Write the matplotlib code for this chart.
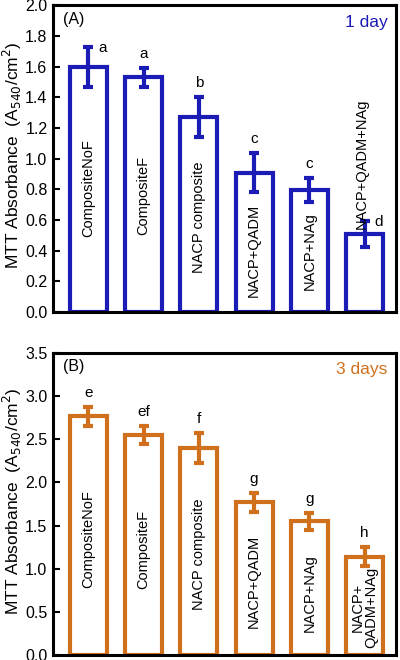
import numpy as np
import matplotlib
matplotlib.use('Agg')
import matplotlib.pyplot as plt

plt.rcParams['font.family'] = ['Liberation Sans', 'DejaVu Sans']

# Datos
grupos = ['CompositeNoF', 'CompositeF', 'NACP composite', 'NACP+QADM', 'NACP+NAg', 'NACP+QADM+NAg']
grupos_b = ['CompositeNoF', 'CompositeF', 'NACP composite', 'NACP+QADM', 'NACP+NAg', 'NACP+\nQADM+NAg']

dia1 = [1.60, 1.53, 1.27, 0.91, 0.795, 0.51]
err1 = [0.13, 0.06, 0.13, 0.13, 0.08, 0.085]
letras1 = ['a', 'a', 'b', 'c', 'c', 'd']

dia3 = [2.77, 2.55, 2.40, 1.77, 1.55, 1.14]
err3 = [0.11, 0.10, 0.17, 0.11, 0.10, 0.11]
letras3 = ['e', 'ef', 'f', 'g', 'g', 'h']

AZUL = '#1b1bb5'
NARANJA = '#d0701c'


def panel(ax, valores, errores, letras, nombres, color, ymax, paso, tag, titulo,
          pos_texto, letra_lado, texto_fuera):
    x = np.arange(len(valores))
    ax.bar(x, valores, width=0.67, facecolor='white', edgecolor=color, linewidth=3.0, zorder=2)
    ax.errorbar(x, valores, yerr=errores, fmt='none', ecolor=color, elinewidth=3.0,
                capsize=3.5, capthick=3.0, zorder=3)

    for i, (v, e, l) in enumerate(zip(valores, errores, letras)):
        if letra_lado[i]:
            ax.annotate(l, (x[i], v + e), xytext=(7, -1), textcoords='offset points',
                        ha='left', va='center', fontsize=11)
        else:
            ax.annotate(l, (x[i], v + e), xytext=(0, 5), textcoords='offset points',
                        ha='center', va='bottom', fontsize=11)

    for i, nombre in enumerate(nombres):
        dx = -0.05 if texto_fuera[i] else 0
        ax.text(x[i] + dx, pos_texto[i], nombre, rotation=90, ha='center', va='center',
                fontsize=10.5, linespacing=0.9)

    ax.set_xlim(-0.64, len(valores) - 0.43)
    ax.set_ylim(0, ymax)
    ax.set_yticks(np.arange(0, ymax + 0.001, paso))
    ax.yaxis.set_major_formatter(matplotlib.ticker.FormatStrFormatter('%.1f'))
    ax.set_xticks([])
    ax.tick_params(axis='y', direction='in', length=5, width=1.5, labelsize=11.5, pad=4)
    for s in ax.spines.values():
        s.set_linewidth(2.2)
    ax.set_ylabel('MTT Absorbance  (A$_{540}$/cm$^2$)', fontsize=12.5)
    ax.yaxis.set_label_coords(-0.085, 0.51)
    ax.text(0.03, 0.955, tag, transform=ax.transAxes, ha='left', va='center', fontsize=11.5)
    ax.text(0.975, 0.945, titulo, transform=ax.transAxes, ha='right', va='center',
            fontsize=12.5, color=color)


fig = plt.figure(figsize=(4.0, 6.6), dpi=100)
ax1 = fig.add_axes([0.1325, 0.527, 0.8575, 0.465])
ax2 = fig.add_axes([0.1325, 0.0076, 0.8575, 0.4574])

panel(ax1, dia1, err1, letras1, grupos, AZUL, 2.0, 0.2, '(A)', '1 day',
      [0.81, 0.76, 0.62, 0.40, 0.40, 0.97],
      [True, False, False, False, False, True],
      [False, False, False, False, False, True])
panel(ax2, dia3, err3, letras3, grupos_b, NARANJA, 3.5, 0.5, '(B)', '3 days',
      [1.34, 1.22, 1.17, 0.85, 0.72, 0.55],
      [False] * 6,
      [False] * 6)

fig.savefig('out.png', dpi=100)
